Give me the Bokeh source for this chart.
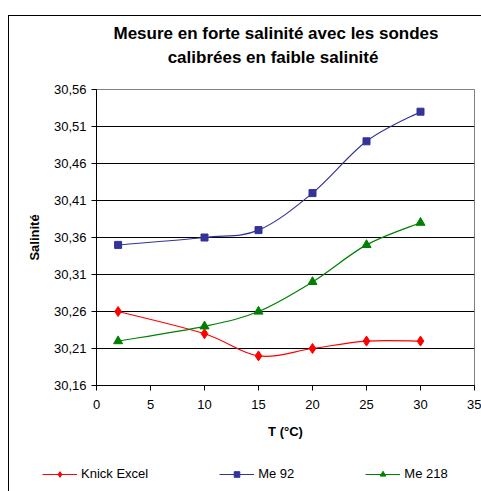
from bokeh.plotting import figure
from bokeh.layouts import column, row
from bokeh.models import FixedTicker, Label, Legend, LegendItem, Range1d
from bokeh.embed import file_html
from bokeh.resources import INLINE

# ---- data ----
temps = [2, 10, 15, 20, 25, 30]
knick_excel = [30.26, 30.23, 30.20, 30.21, 30.22, 30.22]
me_92 = [30.35, 30.36, 30.37, 30.42, 30.49, 30.53]
me_218 = [30.22, 30.24, 30.26, 30.30, 30.35, 30.38]

x_ticks = [0, 5, 10, 15, 20, 25, 30, 35]
y_ticks = [30.16, 30.21, 30.26, 30.31, 30.36, 30.41, 30.46, 30.51, 30.56]
y_tick_labels = ["30,16", "30,21", "30,26", "30,31", "30,36", "30,41", "30,46", "30,51", "30,56"]

title_lines = ["Mesure en forte salinité avec les sondes", "calibrées en faible salinité"]
x_title = "T (°C)"
y_title = "Salinité"

FONT = "Liberation Sans"


def strip(height):
    """An empty plot used as a band of the chart area (title band, legend band)."""
    f = figure(width=472, height=height, output_backend="svg", toolbar_location=None,
               x_range=Range1d(-100, -99), y_range=Range1d(0, 1),
               x_axis_location=None, y_axis_location=None, min_border=0,
               min_border_left=0, min_border_right=0, min_border_top=0, min_border_bottom=0)
    f.title = None
    f.outline_line_color = None
    f.grid.grid_line_color = None
    f.background_fill_color = "white"
    f.border_fill_color = "white"
    return f


# ---- title band ----
head = strip(55)
for txt, xpos, ypos in ((title_lines[0], 266.5, 38), (title_lines[1], 263.5, 14)):
    head.add_layout(Label(x=xpos, y=ypos, x_units="screen", y_units="screen", text=txt,
                          text_align="center", text_baseline="alphabetic",
                          text_font=FONT, text_font_size="17px", text_font_style="bold",
                          text_color="black"))

# ---- main chart ----
p = figure(width=472, height=370, output_backend="svg", toolbar_location=None,
           x_range=Range1d(0, 35), y_range=Range1d(30.16, 30.56),
           min_border_left=87, min_border_right=7, min_border_top=18, min_border_bottom=56)
p.title = None
p.background_fill_color = "white"
p.border_fill_color = "white"
p.outline_line_color = "#808080"
p.outline_line_width = 1

for ax in (p.xaxis[0], p.yaxis[0]):
    ax.axis_line_color = "black"
    ax.major_tick_line_color = "black"
    ax.major_tick_out = 5
    ax.major_tick_in = 0
    ax.minor_tick_line_color = None
    ax.major_label_text_font = FONT
    ax.major_label_text_font_size = "13px"
    ax.major_label_text_color = "black"
    ax.axis_label_text_font = FONT
    ax.axis_label_text_font_size = "13px"
    ax.axis_label_text_font_style = "bold"
    ax.axis_label_text_color = "black"

p.xaxis.ticker = FixedTicker(ticks=x_ticks)
p.yaxis.ticker = FixedTicker(ticks=y_ticks)
p.yaxis.major_label_overrides = dict(zip(y_ticks, y_tick_labels))
p.xaxis.axis_label = x_title
p.yaxis.axis_label = y_title
p.xaxis.major_label_standoff = 9
p.yaxis.major_label_standoff = 5
p.xaxis.axis_label_standoff = 12
p.yaxis.axis_label_standoff = 9

p.xgrid.grid_line_color = None
p.ygrid.ticker = FixedTicker(ticks=y_ticks)
p.ygrid.grid_line_color = "black"
p.ygrid.grid_line_width = 1


def smooth(xs, ys):
    """Control points of an Excel-like smoothed curve through the data points."""
    n = len(xs)
    out = dict(x0=[], y0=[], x1=[], y1=[], cx0=[], cy0=[], cx1=[], cy1=[])
    for i in range(n - 1):
        a = max(i - 1, 0)
        b = min(i + 2, n - 1)
        out["x0"].append(xs[i]); out["y0"].append(ys[i])
        out["x1"].append(xs[i + 1]); out["y1"].append(ys[i + 1])
        out["cx0"].append(xs[i] + (xs[i + 1] - xs[a]) / 6)
        out["cy0"].append(ys[i] + (ys[i + 1] - ys[a]) / 6)
        out["cx1"].append(xs[i + 1] - (xs[b] - xs[i]) / 6)
        out["cy1"].append(ys[i + 1] - (ys[b] - ys[i]) / 6)
    return out


series = [
    ("Knick Excel", knick_excel, "#FF0000", "diamond", 10),
    ("Me 92", me_92, "#333399", "square", 7),
    ("Me 218", me_218, "#008000", "triangle", 9),
]

# ---- legend band: its own plot, whose view range holds none of the points ----
leg = strip(50)

items = []
for name, vals, color, marker, size in series:
    c = smooth(temps, vals)
    p.bezier(x0=c["x0"], y0=c["y0"], x1=c["x1"], y1=c["y1"],
             cx0=c["cx0"], cy0=c["cy0"], cx1=c["cx1"], cy1=c["cy1"],
             line_color=color, line_width=1.2)
    p.scatter(temps, vals, marker=marker, size=size, fill_color=color, line_color=color)
    l_line = leg.line(temps, vals, line_color=color, line_width=1.2)
    l_pts = leg.scatter(temps, vals, marker=marker, size=size, fill_color=color, line_color=color)
    items.append(LegendItem(label=name, renderers=[l_line, l_pts]))

legend = Legend(items=items, orientation="horizontal", location=(33, 10),
                glyph_width=35, glyph_height=14, label_height=14,
                label_standoff=4, spacing=71, padding=0, margin=0,
                border_line_alpha=0, background_fill_alpha=0,
                label_text_font=FONT, label_text_font_size="13px",
                label_text_color="black")
leg.add_layout(legend, "center")

root = column(row(head, spacing=0), p, row(leg, spacing=0), spacing=0, margin=(15, 0, 0, 8),
              styles={"border-left": "1px solid #000000", "border-top": "1px solid #000000"})

open("out.html", "w").write(file_html(root, INLINE))
